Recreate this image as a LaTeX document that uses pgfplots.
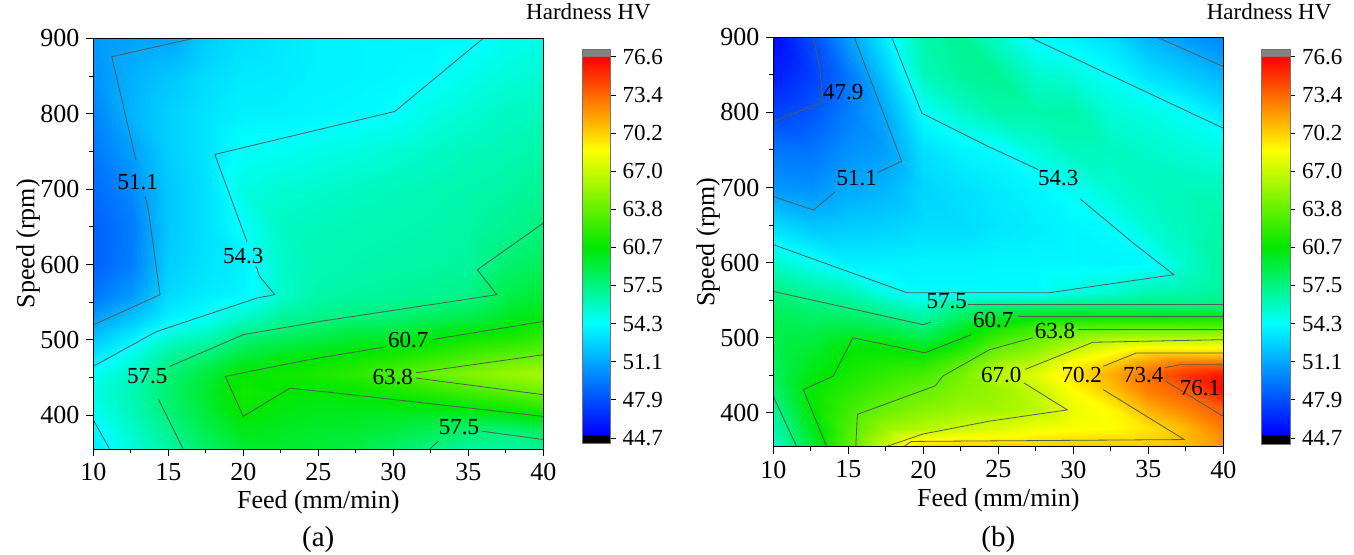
\documentclass[border=0pt]{standalone}
\usepackage{fontspec}
\setmainfont{Liberation Serif}
\usepackage{pgfplots}
\pgfplotsset{compat=1.18}

\tikzset{
  clabel/.style={font=\fontsize{11.5bp}{13bp}\selectfont, inner sep=0pt},
  bar title/.style={font=\fontsize{11.5bp}{13bp}\selectfont, inner sep=0pt},
}

\pgfplotsset{
  colormap={hardness}{
    rgb255(44.2pt)=(0,0,0) rgb255(44.9pt)=(0,0,0)
    rgb255(45.0pt)=(0,0,255)
    rgb255(54.3pt)=(0,255,255)
    rgb255(60.7pt)=(0,232,0)
    rgb255(68.8pt)=(255,255,0)
    rgb255(76.6pt)=(255,0,0)
    rgb255(76.7pt)=(130,130,130) rgb255(77.2pt)=(130,130,130)
  },
  contour panel/.style={
    scale only axis, width=225bp,
    xmin=10, xmax=40, ymin=355, ymax=900,
    xtick={10,15,...,40}, ytick={400,500,...,900},
    minor x tick num=1, minor y tick num=1,
    xtick pos=left, ytick pos=left,
    tick align=outside,
    major tick length=3.5bp, minor tick length=2bp,
    tick style={black, line width=0.5bp},
    axis line style={line width=0.6bp},
    axis on top, clip mode=individual,
    ticklabel style={font=\fontsize{13bp}{15bp}\selectfont},
    /pgf/number format/assume math mode=true,
    label style={font=\fontsize{13bp}{15bp}\selectfont},
    xlabel={Feed (mm/min)}, ylabel={Speed (rpm)},
    colormap name=hardness,
    point meta min=44.2, point meta max=77.2,
    colorbar,
    colorbar style={
      at={(parent axis.north east)}, anchor=north west,
      scale only axis, width=14.25bp, height=197.1bp,
      ytick={44.7,47.89,51.08,54.27,57.46,60.65,63.84,67.03,70.22,73.41,76.6},
      yticklabels={44.7,47.9,51.1,54.3,57.5,60.7,63.8,67.0,70.2,73.4,76.6},
      ytick pos=right, yticklabel pos=right,
      tick align=outside, major tick length=2.5bp,
      tick style={black, line width=0.5bp},
      axis line style={draw=black!55, line width=0.5bp},
      yticklabel style={font=\fontsize{11.5bp}{13bp}\selectfont},
    },
  },
  hv surface/.style={surf, shader=interp, mesh/cols=13, point meta=explicit},
  cline/.style={draw=black!65, line width=0.4bp},
}

\begin{document}
\begin{tikzpicture}

% ---------------- panel (a) ----------------
\begin{axis}[contour panel, at={(46.65bp,52.85bp)}, anchor=south west, height=205.5bp,
  xlabel style={at={(axis description cs:0.5,-0.1282)}, anchor=center},
  ylabel style={at={(axis description cs:-0.1451,0.5)}, anchor=center},
  colorbar style={xshift=10.85bp, yshift=-5.75bp}]
\addplot[hv surface] coordinates {
(10,355)[53.6] (12.5,355)[55.2] (15,355)[56.6] (17.5,355)[58.2] (20,355)[59.3] (22.5,355)[59.5] (25,355)[59.4] (27.5,355)[59.0] (30,355)[58.2] (32.5,355)[57.4] (35,355)[56.8] (37.5,355)[56.6] (40,355)[57.0]
(10,380)[54.0] (12.5,380)[55.6] (15,380)[57.2] (17.5,380)[58.8] (20,380)[60.2] (22.5,380)[59.8] (25,380)[59.6] (27.5,380)[59.5] (30,380)[59.2] (32.5,380)[58.6] (35,380)[57.9] (37.5,380)[57.7] (40,380)[58.4]
(10,405)[54.6] (12.5,405)[56.0] (15,405)[57.8] (17.5,405)[59.3] (20,405)[60.9] (22.5,405)[60.3] (25,405)[60.0] (27.5,405)[60.0] (30,405)[60.0] (32.5,405)[60.0] (35,405)[60.2] (37.5,405)[60.7] (40,405)[61.4]
(10,430)[55.0] (12.5,430)[56.2] (15,430)[58.0] (17.5,430)[59.6] (20,430)[61.3] (22.5,430)[60.7] (25,430)[60.6] (27.5,430)[60.8] (30,430)[61.3] (32.5,430)[61.8] (35,430)[62.6] (37.5,430)[63.3] (40,430)[64.0]
(10,455)[54.6] (12.5,455)[55.8] (15,455)[57.7] (17.5,455)[59.2] (20,455)[60.8] (22.5,455)[61.1] (25,455)[61.5] (27.5,455)[62.0] (30,455)[63.0] (32.5,455)[64.0] (35,455)[64.8] (37.5,455)[65.5] (40,455)[66.0]
(10,480)[53.4] (12.5,480)[54.8] (15,480)[56.8] (17.5,480)[57.8] (20,480)[59.2] (22.5,480)[60.0] (25,480)[60.5] (27.5,480)[60.9] (30,480)[61.3] (32.5,480)[62.0] (35,480)[62.8] (37.5,480)[63.4] (40,480)[63.9]
(10,505)[52.0] (12.5,505)[53.6] (15,505)[55.2] (17.5,505)[56.0] (20,505)[57.6] (22.5,505)[58.2] (25,505)[58.8] (27.5,505)[59.4] (30,505)[59.6] (32.5,505)[60.2] (35,505)[60.9] (37.5,505)[61.3] (40,505)[62.0]
(10,530)[50.6] (12.5,530)[52.0] (15,530)[53.8] (17.5,530)[54.4] (20,530)[55.6] (22.5,530)[56.8] (25,530)[57.3] (27.5,530)[57.6] (30,530)[57.8] (32.5,530)[58.4] (35,530)[58.8] (37.5,530)[59.8] (40,530)[60.4]
(10,560)[49.3] (12.5,560)[50.6] (15,560)[53.0] (17.5,560)[53.6] (20,560)[54.0] (22.5,560)[55.6] (25,560)[56.5] (27.5,560)[56.7] (30,560)[56.8] (32.5,560)[57.0] (35,560)[57.3] (37.5,560)[58.8] (40,560)[59.4]
(10,600)[48.5] (12.5,600)[49.6] (15,600)[52.5] (17.5,600)[53.3] (20,600)[53.8] (22.5,600)[55.6] (25,600)[56.2] (27.5,600)[56.4] (30,600)[56.5] (32.5,600)[56.6] (35,600)[56.8] (37.5,600)[57.9] (40,600)[58.5]
(10,650)[48.5] (12.5,650)[49.5] (15,650)[52.3] (17.5,650)[53.2] (20,650)[54.4] (22.5,650)[55.8] (25,650)[56.0] (27.5,650)[56.2] (30,650)[56.3] (32.5,650)[56.4] (35,650)[56.6] (37.5,650)[57.0] (40,650)[57.6]
(10,700)[48.9] (12.5,700)[50.0] (15,700)[52.3] (17.5,700)[53.2] (20,700)[55.0] (22.5,700)[55.4] (25,700)[55.6] (27.5,700)[55.8] (30,700)[56.0] (32.5,700)[56.2] (35,700)[56.4] (37.5,700)[56.6] (40,700)[57.0]
(10,750)[49.4] (12.5,750)[50.8] (15,750)[52.5] (17.5,750)[53.3] (20,750)[54.4] (22.5,750)[54.6] (25,750)[54.9] (27.5,750)[55.1] (30,750)[55.4] (32.5,750)[55.7] (35,750)[56.0] (37.5,750)[56.2] (40,750)[56.5]
(10,800)[49.8] (12.5,800)[51.6] (15,800)[52.6] (17.5,800)[53.3] (20,800)[53.8] (22.5,800)[53.8] (25,800)[54.0] (27.5,800)[54.1] (30,800)[54.3] (32.5,800)[55.0] (35,800)[55.4] (37.5,800)[55.8] (40,800)[56.0]
(10,850)[50.3] (12.5,850)[51.4] (15,850)[52.2] (17.5,850)[53.0] (20,850)[53.5] (22.5,850)[53.6] (25,850)[53.8] (27.5,850)[53.9] (30,850)[54.0] (32.5,850)[54.2] (35,850)[54.8] (37.5,850)[55.2] (40,850)[55.5]
(10,900)[50.6] (12.5,900)[50.9] (15,900)[51.0] (17.5,900)[52.5] (20,900)[53.2] (22.5,900)[53.5] (25,900)[53.8] (27.5,900)[53.9] (30,900)[53.9] (32.5,900)[53.9] (35,900)[54.1] (37.5,900)[54.7] (40,900)[55.0]
};
% contour lines
\addplot[cline] coordinates {(16.7,900) (11.23,875.6) (12.85,738)};
\addplot[cline] coordinates {(13.46,690) (13.67,672.5) (14.45,560) (10,520)};
\addplot[cline] coordinates {(10,465) (14.2,511) (20.9,555.5) (22.1,560) (21.1,584) (20.84,598)};
\addplot[cline] coordinates {(20.25,630) (18.1,746) (30.1,803) (36,900)};
\addplot[cline] coordinates {(10,394) (11.1,355)};
\addplot[cline] coordinates {(16,355) (14.35,421)};
\addplot[cline] coordinates {(15.1,465) (20,507) (25.1,524.5) (36.9,560) (35.6,593) (40,655)};
\addplot[cline] coordinates {(32.4,355) (33.0,365.6)};
\addplot[cline] coordinates {(35.9,379) (40,368)};
\addplot[cline] coordinates {(40,524.5) (32.6,500.6)};
\addplot[cline] coordinates {(29.4,490.5) (24.4,474) (18.8,451.7) (20,398.7) (23.1,436) (25.1,432) (40,398.7)};
\addplot[cline] coordinates {(40,480.4) (31.5,456.5)};
\addplot[cline] coordinates {(31.5,449.5) (40,427.4)};
% contour labels
\node[clabel] at (axis cs:12.96,710) {51.1};
\node[clabel] at (axis cs:20.0,611.6) {54.3};
\node[clabel] at (axis cs:13.6,451.7) {57.5};
\node[clabel] at (axis cs:31.0,500.3) {60.7};
\node[clabel] at (axis cs:29.96,450.9) {63.8};
\node[clabel] at (axis cs:34.38,384.1) {57.5};
\node[bar title] at (axis description cs:1.1004,1.064) {Hardness HV};
\node[font=\fontsize{14.5bp}{16bp}\selectfont] at (axis description cs:0.5,-0.2207) {(a)};
\end{axis}

% ---------------- panel (b) ----------------
\begin{axis}[contour panel, at={(386.65bp,54.15bp)}, anchor=south west, height=204.7bp,
  xlabel style={at={(axis description cs:0.5,-0.1302)}, anchor=center},
  ylabel style={at={(axis description cs:-0.1451,0.5)}, anchor=center},
  colorbar style={xshift=10.65bp, yshift=-6.25bp}]
\addplot[hv surface] coordinates {
(10,355)[55.5] (12.5,355)[59.3] (15,355)[63.3] (17.5,355)[67.0] (20,355)[70.3] (22.5,355)[70.5] (25,355)[70.4] (27.5,355)[70.4] (30,355)[70.6] (32.5,355)[70.6] (35,355)[70.5] (37.5,355)[70.9] (40,355)[72.0]
(10,380)[56.3] (12.5,380)[59.9] (15,380)[63.1] (17.5,380)[65.6] (20,380)[66.4] (22.5,380)[67.1] (25,380)[67.6] (27.5,380)[68.3] (30,380)[68.6] (32.5,380)[68.8] (35,380)[69.6] (37.5,380)[71.0] (40,380)[72.8]
(10,405)[57.0] (12.5,405)[60.6] (15,405)[62.6] (17.5,405)[64.0] (20,405)[65.0] (22.5,405)[65.6] (25,405)[65.8] (27.5,405)[66.6] (30,405)[68.2] (32.5,405)[69.0] (35,405)[71.2] (37.5,405)[72.6] (40,405)[73.8]
(10,430)[57.8] (12.5,430)[60.8] (15,430)[61.9] (17.5,430)[63.0] (20,430)[63.8] (22.5,430)[64.9] (25,430)[65.6] (27.5,430)[66.9] (30,430)[68.8] (32.5,430)[70.6] (35,430)[72.8] (37.5,430)[73.8] (40,430)[76.3]
(10,450)[58.3] (12.5,450)[60.3] (15,450)[61.3] (17.5,450)[62.2] (20,450)[62.9] (22.5,450)[64.4] (25,450)[66.6] (27.5,450)[67.8] (30,450)[69.6] (32.5,450)[71.3] (35,450)[73.3] (37.5,450)[75.0] (40,450)[76.0]
(10,465)[58.5] (12.5,465)[59.9] (15,465)[61.0] (17.5,465)[61.6] (20,465)[61.9] (22.5,465)[63.6] (25,465)[65.8] (27.5,465)[66.8] (30,465)[69.0] (32.5,465)[70.3] (35,465)[72.0] (37.5,465)[73.3] (40,465)[73.4]
(10,480)[58.7] (12.5,480)[59.6] (15,480)[60.8] (17.5,480)[61.0] (20,480)[60.7] (22.5,480)[62.1] (25,480)[64.4] (27.5,480)[65.4] (30,480)[67.4] (32.5,480)[68.8] (35,480)[70.2] (37.5,480)[70.2] (40,480)[70.2]
(10,495)[58.8] (12.5,495)[59.2] (15,495)[60.2] (17.5,495)[60.3] (20,495)[59.3] (22.5,495)[60.9] (25,495)[63.1] (27.5,495)[64.3] (30,495)[65.8] (32.5,495)[67.0] (35,495)[67.4] (37.5,495)[67.3] (40,495)[67.5]
(10,510)[58.8] (12.5,510)[58.7] (15,510)[59.2] (17.5,510)[58.8] (20,510)[58.0] (22.5,510)[59.8] (25,510)[61.6] (27.5,510)[62.9] (30,510)[63.9] (32.5,510)[64.3] (35,510)[64.4] (37.5,510)[64.4] (40,510)[64.2]
(10,525)[58.6] (12.5,525)[58.2] (15,525)[58.3] (17.5,525)[57.8] (20,525)[56.8] (22.5,525)[58.6] (25,525)[59.8] (27.5,525)[61.1] (30,525)[61.3] (32.5,525)[61.4] (35,525)[61.4] (37.5,525)[61.5] (40,525)[61.5]
(10,540)[58.3] (12.5,540)[57.8] (15,540)[57.5] (17.5,540)[56.6] (20,540)[55.8] (22.5,540)[57.5] (25,540)[58.0] (27.5,540)[58.3] (30,540)[58.4] (32.5,540)[58.2] (35,540)[58.0] (37.5,540)[58.0] (40,540)[57.9]
(10,560)[57.6] (12.5,560)[56.9] (15,560)[56.3] (17.5,560)[54.9] (20,560)[54.2] (22.5,560)[54.2] (25,560)[54.2] (27.5,560)[54.2] (30,560)[55.0] (32.5,560)[55.5] (35,560)[56.3] (37.5,560)[56.5] (40,560)[56.8]
(10,600)[55.6] (12.5,600)[54.6] (15,600)[53.8] (17.5,600)[53.8] (20,600)[53.9] (22.5,600)[53.9] (25,600)[54.0] (27.5,600)[54.0] (30,600)[54.0] (32.5,600)[53.9] (35,600)[54.1] (37.5,600)[55.6] (40,600)[56.8]
(10,650)[53.0] (12.5,650)[52.2] (15,650)[52.4] (17.5,650)[52.6] (20,650)[53.0] (22.5,650)[53.0] (25,650)[53.4] (27.5,650)[53.7] (30,650)[54.0] (32.5,650)[54.3] (35,650)[55.4] (37.5,650)[56.0] (40,650)[56.5]
(10,700)[50.6] (12.5,700)[50.3] (15,700)[51.2] (17.5,700)[51.6] (20,700)[52.8] (22.5,700)[53.2] (25,700)[53.6] (27.5,700)[54.0] (30,700)[54.6] (32.5,700)[55.4] (35,700)[55.9] (37.5,700)[56.0] (40,700)[56.0]
(10,750)[49.3] (12.5,750)[49.2] (15,750)[50.3] (17.5,750)[50.8] (20,750)[53.2] (22.5,750)[53.9] (25,750)[54.2] (27.5,750)[55.2] (30,750)[56.0] (32.5,750)[55.9] (35,750)[55.6] (37.5,750)[55.3] (40,750)[55.0]
(10,800)[47.4] (12.5,800)[48.1] (15,800)[49.6] (17.5,800)[51.3] (20,800)[54.4] (22.5,800)[55.6] (25,800)[56.4] (27.5,800)[56.4] (30,800)[56.5] (32.5,800)[55.3] (35,800)[55.0] (37.5,800)[54.4] (40,800)[53.3]
(10,850)[46.0] (12.5,850)[47.2] (15,850)[49.3] (17.5,850)[52.4] (20,850)[56.0] (22.5,850)[56.8] (25,850)[57.0] (27.5,850)[55.6] (30,850)[55.2] (32.5,850)[54.3] (35,850)[53.2] (37.5,850)[52.4] (40,850)[51.6]
(10,900)[45.3] (12.5,900)[47.7] (15,900)[50.8] (17.5,900)[53.8] (20,900)[56.4] (22.5,900)[57.0] (25,900)[55.6] (27.5,900)[54.1] (30,900)[53.8] (32.5,900)[53.1] (35,900)[51.6] (37.5,900)[50.6] (40,900)[49.8]
};
% contour lines
\addplot[cline] coordinates {(10,788) (13.3,814) (13.1,859) (12.67,900)};
\addplot[cline] coordinates {(15.4,900) (18.56,735) (16.95,720)};
\addplot[cline] coordinates {(14.1,694) (12.67,670) (10,688)};
\addplot[cline] coordinates {(10,624) (18.9,560) (28.4,560) (36.7,584) (34,626) (30.45,685)};
\addplot[cline] coordinates {(27.65,724) (24.4,754) (19.9,799) (17.9,900)};
\addplot[cline] coordinates {(27.1,900) (40,779)};
\addplot[cline] coordinates {(35.6,900) (40,861)};
\addplot[cline] coordinates {(10,561.7) (20,517.4) (20.5,521)};
\addplot[cline] coordinates {(23.0,544) (40,544)};
\addplot[cline] coordinates {(10,422) (11.56,355)};
\addplot[cline] coordinates {(13.56,355) (12,431) (14,449) (15.3,500) (20.1,480) (23.2,504)};
\addplot[cline] coordinates {(26.3,528.5) (40,528.5)};
\addplot[cline] coordinates {(15.5,355) (15.6,398) (20.8,436) (21.3,449) (24.4,484) (27.3,500)};
\addplot[cline] coordinates {(30.3,511.7) (40,511.7)};
\addplot[cline] coordinates {(17.5,355) (20,372) (24.4,389) (29.6,404) (26.7,440)};
\addplot[cline] coordinates {(26.8,458) (31.3,494) (40,497.5)};
\addplot[cline] coordinates {(40,479.8) (34.2,479.8) (32,462)};
\addplot[cline] coordinates {(32,431) (37.4,364.5) (19.2,362) (18.7,355)};
\addplot[cline] coordinates {(40,464.2) (37.1,464.2) (36.1,460)};
\addplot[cline] coordinates {(36.1,443) (39.8,397.7) (40,396)};
% contour labels
\node[clabel] at (axis cs:14.67,827.7) {47.9};
\node[clabel] at (axis cs:15.56,712.5) {51.1};
\node[clabel] at (axis cs:29.0,712.5) {54.3};
\node[clabel] at (axis cs:21.56,548.5) {57.5};
\node[clabel] at (axis cs:24.67,524) {60.7};
\node[clabel] at (axis cs:28.78,508.6) {63.8};
\node[clabel] at (axis cs:25.2,451) {67.0};
\node[clabel] at (axis cs:30.56,451) {70.2};
\node[clabel] at (axis cs:34.67,451) {73.4};
\node[clabel] at (axis cs:38.44,433.2) {76.1};
\node[bar title] at (axis description cs:1.1019,1.0618) {Hardness HV};
\node[font=\fontsize{14.5bp}{16bp}\selectfont] at (axis description cs:0.5,-0.2279) {(b)};
\end{axis}

\pgfresetboundingbox
\useasboundingbox (0,0) rectangle (677bp,277.5bp);
\end{tikzpicture}
\end{document}
